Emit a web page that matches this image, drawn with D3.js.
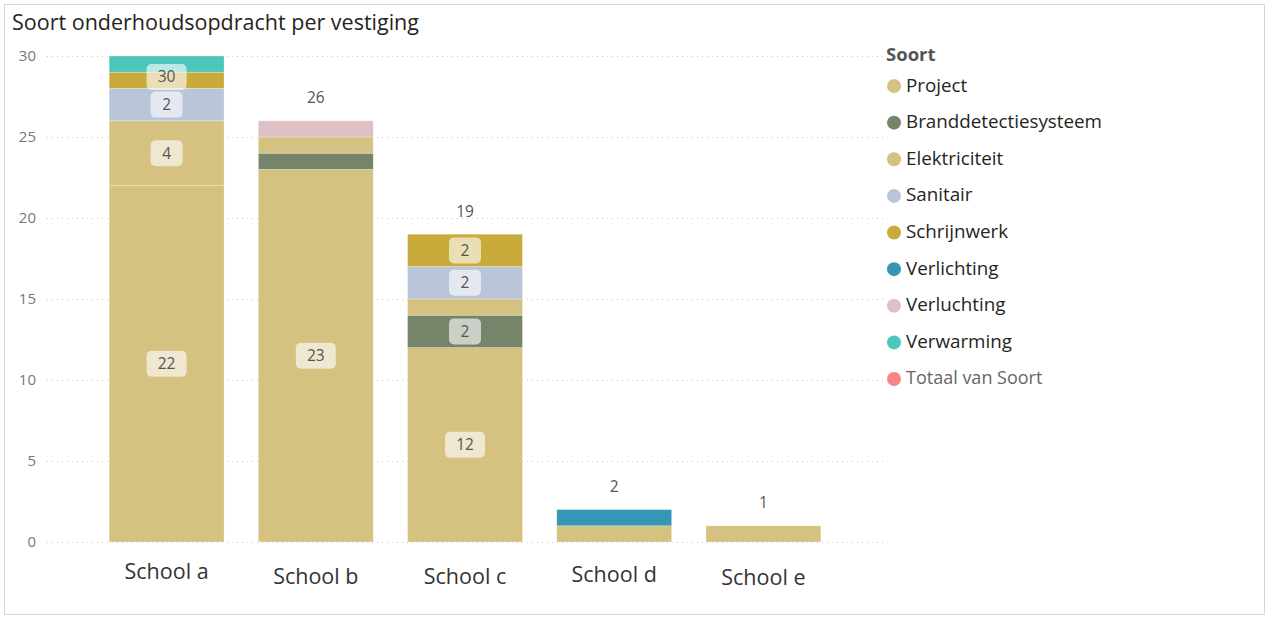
<!DOCTYPE html>
<html>
<head>
<meta charset="utf-8">
<script src="https://cdn.jsdelivr.net/npm/d3@7"></script>
<style>
  body { margin: 0; background: #fff; }
  svg { font-family: "Open Sans", "Noto Sans", sans-serif; }
</style>
</head>
<body>
<svg id="chart" width="1267" height="617"></svg>
<script>
// data
var schools = ["School a", "School b", "School c", "School d", "School e"];
var soorten = ["Project", "Branddetectiesysteem", "Elektriciteit", "Sanitair", "Schrijnwerk", "Verlichting", "Verluchting", "Verwarming"];
var kleuren = ["#d5c180", "#768569", "#d5c180", "#b9c5d8", "#c9ab3b", "#3597b5", "#dfc0c4", "#4cc6b9"];
var project = [22, 23, 12, 1, 1];
var brand = [0, 1, 2, 0, 0];
var elektriciteit = [4, 1, 1, 0, 0];
var sanitair = [2, 0, 2, 0, 0];
var schrijnwerk = [1, 0, 2, 0, 0];
var verlichting = [0, 0, 0, 1, 0];
var verluchting = [0, 1, 0, 0, 0];
var verwarming = [1, 0, 0, 0, 0];
var yTicks = [0, 5, 10, 15, 20, 25, 30];

var series = [project, brand, elektriciteit, sanitair, schrijnwerk, verlichting, verluchting, verwarming];
var rows = schools.map(function(s, i) {
  var r = {school: s};
  soorten.forEach(function(k, j) { r[k] = series[j][i]; });
  return r;
});
var totals = schools.map(function(s, i) { return d3.sum(series, function(a) { return a[i]; }); });

var svg = d3.select("#chart");

// frame
svg.append("rect")
  .attr("x", 4.5).attr("y", 4.5)
  .attr("width", 1260).attr("height", 610)
  .attr("fill", "none").attr("stroke", "#d6d6d6");

svg.append("text")
  .attr("x", 12).attr("y", 30)
  .attr("font-size", 21.5)
  .attr("fill", "#252423")
  .text("Soort onderhoudsopdracht per vestiging");

var x = d3.scaleBand()
  .domain(schools)
  .range([92, 838])
  .paddingInner(0.23)
  .paddingOuter(0.115);

var y = d3.scaleLinear().domain([0, 30]).range([542, 56]);

// grid
svg.append("g").selectAll("line")
  .data(yTicks)
  .enter().append("line")
  .attr("x1", 47).attr("x2", 885)
  .attr("y1", function(d) { return y(d) + 0.5; })
  .attr("y2", function(d) { return y(d) + 0.5; })
  .attr("stroke", "#c8c8c8")
  .attr("stroke-dasharray", "1,4");

var yAxis = svg.append("g")
  .attr("transform", "translate(36,0)")
  .call(d3.axisLeft(y).tickValues(yTicks).tickSize(0).tickPadding(0));
yAxis.select(".domain").remove();
yAxis.selectAll("text")
  .attr("font-size", 15)
  .attr("fill", "#777")
  .attr("font-family", "Open Sans, sans-serif");

var stack = d3.stack().keys(soorten)(rows);

var layers = svg.append("g").selectAll("g")
  .data(stack)
  .enter().append("g")
  .attr("fill", function(d, i) { return kleuren[i]; });

layers.selectAll("rect")
  .data(function(d) { return d; })
  .enter().append("rect")
  .attr("x", function(d) { return x(d.data.school); })
  .attr("width", x.bandwidth())
  .attr("y", function(d) { return y(d[1]); })
  .attr("height", function(d) { return y(d[0]) - y(d[1]); })
  .attr("stroke", "rgba(255,255,255,0.35)")
  .attr("stroke-width", 0.8);

// segment labels
function boxLabel(g, cx, cy, txt) {
  var w = txt.length > 1 ? 40 : 32;
  g.append("rect")
    .attr("x", cx - w / 2).attr("y", cy - 13)
    .attr("width", w).attr("height", 26)
    .attr("rx", 5)
    .attr("fill", "#fff").attr("fill-opacity", 0.62);
  g.append("text")
    .attr("x", cx).attr("y", cy)
    .attr("dy", "0.35em")
    .attr("text-anchor", "middle")
    .attr("font-size", 15.5)
    .attr("fill", "#555")
    .text(txt);
}

var labelG = svg.append("g");
stack.forEach(function(layer) {
  layer.forEach(function(d) {
    var v = d[1] - d[0];
    if (v >= 2) {
      boxLabel(labelG, x(d.data.school) + x.bandwidth() / 2, y((d[0] + d[1]) / 2), String(v));
    }
  });
});

// totals
schools.forEach(function(s, i) {
  var cx = x(s) + x.bandwidth() / 2;
  var top = y(totals[i]) - 23;
  if (top < 45) {
    boxLabel(labelG, cx, y(totals[i]) + 21, String(totals[i]));
  } else {
    labelG.append("text")
      .attr("x", cx).attr("y", top)
      .attr("dy", "0.35em")
      .attr("text-anchor", "middle")
      .attr("font-size", 15.5)
      .attr("fill", "#555")
      .text(totals[i]);
  }
});

// x axis labels
var xShift = [0, 5, 5, 3, 6];
svg.append("g").selectAll("text")
  .data(schools)
  .enter().append("text")
  .attr("x", function(d) { return x(d) + x.bandwidth() / 2; })
  .attr("y", function(d, i) { return 579 + xShift[i]; })
  .attr("text-anchor", "middle")
  .attr("font-size", 21.5)
  .attr("fill", "#333")
  .text(function(d) { return d; });

// legend
var legend = svg.append("g");
legend.append("text")
  .attr("x", 886).attr("y", 61)
  .attr("font-size", 18.5)
  .attr("font-weight", "bold")
  .attr("fill", "#555")
  .text("Soort");

var legItems = soorten.concat(["Totaal van Soort"]);
var legColors = kleuren.concat(["#f88585"]);
var legY = d3.scalePoint().domain(legItems).range([85, 378]);

var li = legend.selectAll("g.item")
  .data(legItems)
  .enter().append("g")
  .attr("class", "item")
  .attr("transform", function(d) { return "translate(0," + legY(d) + ")"; });

li.append("circle")
  .attr("cx", 894).attr("cy", 1)
  .attr("r", 7)
  .attr("fill", function(d, i) { return legColors[i]; });

li.append("text")
  .attr("x", 906).attr("y", 0)
  .attr("dy", "0.35em")
  .attr("font-size", function(d, i) { return i === legItems.length - 1 ? 18 : 18.8; })
  .attr("fill", function(d, i) { return i === legItems.length - 1 ? "#666" : "#252423"; })
  .text(function(d) { return d; });
</script>
</body>
</html>
